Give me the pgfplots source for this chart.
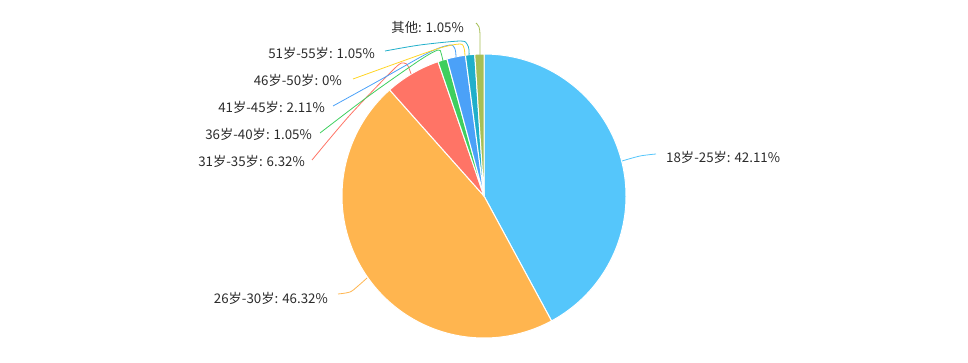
\documentclass[border=0pt]{standalone}
\usepackage{pgfplots}
\pgfplotsset{compat=1.18}
\usepackage{fontspec}
\setmainfont{Noto Sans CJK SC}
\definecolor{cA}{HTML}{55C6FB}
\definecolor{cB}{HTML}{FFB54F}
\definecolor{cC}{HTML}{FF7466}
\definecolor{cD}{HTML}{3ECF5E}
\definecolor{cE}{HTML}{4BA1F8}
\definecolor{cF}{HTML}{FFD525}
\definecolor{cG}{HTML}{20AFCA}
\definecolor{cH}{HTML}{A6BF56}
\definecolor{txt}{HTML}{2B2B2B}
% data: percentages, clockwise from the top
\def\vA{42.11}% 18-25
\def\vB{46.32}% 26-30
\def\vC{6.32}%  31-35
\def\vD{1.05}%  36-40
\def\vE{2.11}%  41-45
\def\vF{0}%     46-50
\def\vG{1.05}%  51-55
\def\vH{1.05}%  other
\pgfmathsetmacro{\sA}{0}
\pgfmathsetmacro{\sB}{\sA+\vA}
\pgfmathsetmacro{\sC}{\sB+\vB}
\pgfmathsetmacro{\sD}{\sC+\vC}
\pgfmathsetmacro{\sE}{\sD+\vD}
\pgfmathsetmacro{\sF}{\sE+\vE}
\pgfmathsetmacro{\sG}{\sF+\vF}
\pgfmathsetmacro{\sH}{\sG+\vG}
\pgfmathsetmacro{\sI}{\sH+\vH}
\def\cx{484}\def\cy{196}\def\rr{142}
\begin{document}
\begin{tikzpicture}
\path[use as bounding box] (0,0) rectangle (968bp,363bp);
\begin{axis}[
  at={(0,0)}, anchor=south west,
  width=968bp, height=363bp, scale only axis,
  xmin=0, xmax=968, ymin=0, ymax=363, y dir=reverse,
  hide axis, clip=false,
  every axis plot/.append style={line join=round},
]
\newcommand{\slice}[4]{%
  \addplot[fill=#1, draw=white, line width=1bp, domain=#2:#3, samples=#4, variable=\t]
    ({\cx+\rr*sin(3.6*\t)}, {\cy-\rr*cos(3.6*\t)}) -- (\cx,\cy) -- cycle;}
\slice{cA}{\sA}{\sB}{120}
\slice{cB}{\sB}{\sC}{120}
\slice{cC}{\sC}{\sD}{20}
\slice{cD}{\sD}{\sE}{6}
\slice{cE}{\sE}{\sF}{8}
\slice{cG}{\sG}{\sH}{6}
\slice{cH}{\sH}{\sI}{6}
% label lines
\addplot[cA, line width=0.8bp, smooth] coordinates {(622,161) (640,156) (656,154)};
\addplot[cB, line width=0.8bp, smooth] coordinates {(338,294) (350,292) (358,286) (367,278)};
\addplot[cC, line width=0.8bp, smooth] coordinates {(312,160) (350,115) (395,68) (404,63) (408,66) (411,74)};
\addplot[cD, line width=0.8bp, smooth] coordinates {(320,133) (370,95) (420,60) (438,50) (441,53) (443,61)};
\addplot[cE, line width=0.8bp, smooth] coordinates {(333,106) (380,80) (430,52) (450,45) (455,49) (456,57)};
\addplot[cF, line width=0.8bp, smooth] coordinates {(353,79) (400,62) (440,48) (460,44) (464,48) (465,56)};
\addplot[cG, line width=0.8bp, smooth] coordinates {(385,51) (420,45) (460,41) (467,44) (469,50) (469,56)};
\addplot[cH, line width=0.8bp, smooth] coordinates {(476,23) (479,27) (480,35) (480,55)};
% labels
\tikzset{lab/.style={text=txt, font=\fontsize{13.3bp}{15bp}\selectfont, inner sep=0pt}}
\node[lab, anchor=west] at (666,157) {18岁-25岁: 42.11\%};
\node[lab, anchor=east] at (328,298) {26岁-30岁: 46.32\%};
\node[lab, anchor=east] at (305,161) {31岁-35岁: 6.32\%};
\node[lab, anchor=east] at (312,134) {36岁-40岁: 1.05\%};
\node[lab, anchor=east] at (325,107) {41岁-45岁: 2.11\%};
\node[lab, anchor=east] at (342,80) {46岁-50岁: 0\%};
\node[lab, anchor=east] at (375,53) {51岁-55岁: 1.05\%};
\node[lab, anchor=east] at (464,27) {其他: 1.05\%};
\end{axis}
\end{tikzpicture}
\end{document}
